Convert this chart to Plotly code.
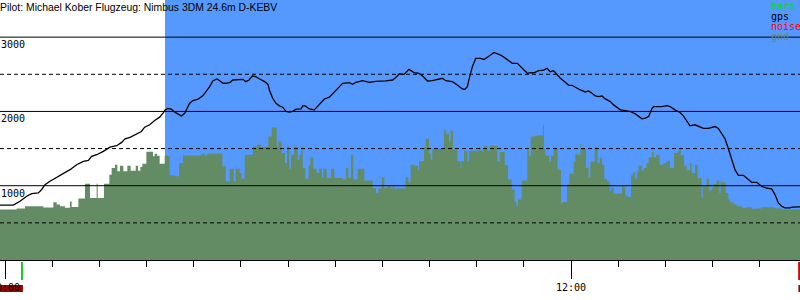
import pandas as pd
import plotly.graph_objects as go

# ---------------- data (minutes after 10:00, metres) ----------------
baro_min = [-1.06, 1.77, 3.18, 4.59, 5.65, 7.07, 7.77, 8.48, 9.54, 11.31,
            12.72, 13.78, 15.19, 16.61, 17.67, 18.37, 19.43, 20.85, 22.26, 23.67,
            24.73, 25.44, 26.50, 27.56, 28.20, 28.91, 29.61, 30.67, 31.73, 32.79,
            33.50, 33.99, 34.56, 35.27, 35.97, 36.68, 37.39, 38.09, 38.45, 39.15,
            39.86, 40.92, 41.98, 42.69, 43.39, 44.10, 44.95, 45.51, 46.22, 46.93,
            47.63, 48.34, 49.75, 50.46, 51.03, 51.73, 52.44, 53.15, 53.99, 55.05,
            55.76, 56.04, 56.75, 57.45, 58.16, 58.87, 59.57, 60.28, 60.99, 61.69,
            62.75, 63.11, 63.67, 64.52, 65.58, 66.64, 67.70, 68.76, 69.46, 70.17,
            70.88, 71.58, 73.00, 73.70, 74.41, 75.82, 77.24, 78.65, 80.77, 82.19,
            82.89, 83.60, 84.59, 85.65, 86.71, 87.77, 88.83, 89.54, 90.60, 91.66,
            92.72, 93.42, 94.84, 95.90, 96.96, 97.52, 98.02, 98.51, 99.08, 99.78,
            100.84, 101.55, 102.26, 102.96, 103.67, 104.38, 105.08, 106.14, 107.56, 108.62,
            109.68, 110.74, 111.45, 112.15, 113.13, 114.19, 114.90, 115.61, 116.31, 117.02,
            117.73, 118.79, 119.49, 120.20, 120.91, 121.97, 123.03, 123.73, 124.44, 125.15,
            125.85, 126.56, 127.27, 128.33, 129.03, 129.74, 130.45, 131.51, 132.57, 133.63,
            134.33, 135.04, 135.75, 136.45, 137.16, 137.51, 138.22, 139.28, 140.34, 140.98,
            142.04, 143.10, 143.81, 144.51, 145.22, 146.28, 146.99, 148.05, 149.11, 149.81,
            150.52, 151.23, 151.93, 152.64, 153.35, 154.05, 154.76, 155.47, 156.53, 157.23,
            158.29, 159.35, 160.41, 161.47, 162.53, 163.24, 163.95, 164.65, 165.36, 166.42,
            166.78, 168.54]
baro_alt = [738, 738, 791, 858, 894, 903, 948, 1015, 1060, 1127,
            1171, 1216, 1283, 1328, 1341, 1395, 1417, 1462, 1520, 1538,
            1583, 1632, 1650, 1681, 1699, 1730, 1788, 1820, 1878, 1923,
            1976, 2021, 2039, 2030, 1990, 1963, 1940, 1976, 2021, 2110,
            2146, 2164, 2213, 2267, 2334, 2414, 2437, 2414, 2379, 2379,
            2388, 2423, 2432, 2432, 2401, 2423, 2477, 2468, 2437, 2401,
            2365, 2289, 2177, 2110, 2075, 2057, 1999, 1990, 1999, 2030,
            2034, 2075, 2075, 2034, 2021, 2100, 2168, 2191, 2236, 2289,
            2325, 2379, 2388, 2365, 2392, 2414, 2392, 2405, 2410, 2423,
            2459, 2508, 2499, 2566, 2522, 2513, 2459, 2410, 2414, 2432,
            2446, 2414, 2401, 2356, 2303, 2298, 2334, 2468, 2602, 2714,
            2714, 2700, 2727, 2759, 2794, 2781, 2759, 2714, 2647, 2647,
            2580, 2513, 2522, 2518, 2548, 2557, 2580, 2535, 2548, 2490,
            2446, 2392, 2352, 2352, 2325, 2289, 2262, 2276, 2244, 2209,
            2200, 2209, 2168, 2133, 2088, 2052, 2021, 2012, 1999, 1967,
            1932, 1900, 1909, 1932, 2039, 2066, 2066, 2066, 2077, 2066,
            2021, 1985, 1940, 1878, 1806, 1820, 1797, 1771, 1771, 1788,
            1797, 1771, 1708, 1632, 1498, 1350, 1216, 1140, 1140, 1104,
            1046, 1046, 993, 966, 957, 881, 769, 724, 702, 702,
            711, 715]

gnd_min = [-1.06, 2.47, 4.24, 8.13, 10.25, 10.95, 11.66, 12.72, 13.78, 14.13,
           15.55, 16.96, 18.02, 19.43, 19.65, 20.99, 22.12, 22.61, 23.32, 23.82,
           24.38, 25.09, 25.94, 26.64, 27.71, 28.20, 28.69, 29.12, 29.97, 31.38,
           31.73, 32.23, 32.79, 33.85, 34.91, 35.97, 36.89, 37.74, 41.63, 42.33,
           42.83, 46.08, 46.79, 47.63, 48.48, 48.91, 49.75, 50.11, 50.81, 52.58,
           53.43, 54.35, 55.27, 55.82, 56.53, 57.59, 57.94, 58.65, 59.36, 59.78,
           60.28, 60.63, 61.34, 62.04, 62.40, 62.75, 63.11, 63.67, 64.38, 64.73,
           65.37, 66.07, 66.64, 67.20, 67.49, 68.19, 69.11, 69.82, 71.58, 72.29,
           72.79, 73.35, 73.85, 74.76, 76.18, 77.94, 78.65, 79.15, 79.92, 80.42,
           81.12, 81.83, 82.19, 82.54, 84.94, 85.51, 86.00, 86.85, 87.56, 87.77,
           88.83, 89.18, 89.89, 90.24, 90.60, 93.07, 93.42, 94.13, 94.48, 94.98,
           95.90, 96.60, 96.75, 97.31, 98.02, 98.37, 100.49, 100.84, 101.55, 102.26,
           102.75, 104.38, 104.87, 105.93, 106.64, 107.42, 108.05, 108.41, 108.76, 109.54,
           110.74, 111.09, 111.45, 112.43, 113.13, 114.05, 114.26, 114.55, 115.39, 115.75,
           116.31, 117.16, 117.87, 118.22, 119.14, 119.64, 120.55, 120.91, 121.26, 121.97,
           122.18, 123.17, 123.73, 124.09, 125.01, 125.64, 126.07, 126.56, 127.06, 127.62,
           128.19, 128.47, 129.03, 130.80, 131.51, 132.00, 132.71, 133.13, 133.63, 133.98,
           134.33, 135.04, 135.39, 135.96, 136.45, 137.16, 137.51, 138.01, 138.79, 139.63,
           140.27, 140.98, 141.83, 142.75, 143.24, 143.95, 144.51, 145.22, 145.57, 146.28,
           146.85, 147.69, 147.91, 148.75, 149.25, 149.81, 150.17, 150.87, 151.44, 151.72,
           151.93, 152.78, 153.35, 153.70, 154.41, 155.11, 156.17, 157.23, 158.29, 159.35,
           160.41, 163.24, 164.65, 168.60]
gnd_alt = [680, 693, 724, 706, 778, 747, 724, 702, 787, 715,
           827, 1028, 836, 1028, 836, 1028, 1149, 1238, 1283, 1194,
           1270, 1194, 1270, 1203, 1270, 1203, 1252, 1297, 1458, 1395,
           1431, 1404, 1297, 1404, 1140, 1127, 1306, 1408, 1431, 1404,
           1431, 1261, 1060, 1230, 1060, 1230, 1171, 1095, 1417, 1529,
           1551, 1520, 1529, 1663, 1784, 1529, 1596, 1440, 1306, 1529,
           1230, 1417, 1529, 1350, 1417, 1529, 1238, 1095, 1274, 1382,
           1230, 1171, 1230, 1104, 1230, 1104, 1230, 1104, 1082, 1238,
           1104, 1417, 1082, 1230, 1069, 970, 903, 961, 1113, 970,
           993, 961, 993, 961, 1113, 1046, 1283, 1270, 1207, 1328,
           1520, 1632, 1440, 1350, 1493, 1753, 1699, 1596, 1739, 1484,
           1328, 1238, 1328, 1471, 1328, 1471, 1520, 1471, 1538, 1471,
           1538, 1328, 1453, 1274, 1082, 948, 782, 724, 814, 1069,
           1484, 1395, 1663, 1672, 1681, 1820, 1493, 1404, 1328, 1404,
           1493, 1216, 760, 782, 1015, 1162, 1328, 1431, 1417, 1565,
           1493, 1238, 1113, 1323, 1520, 1306, 1377, 1283, 1091, 1060,
           925, 975, 894, 993, 867, 849, 1140, 1180, 1095, 1203,
           1270, 1203, 1238, 1306, 1382, 1458, 1382, 1417, 1283, 1306,
           1337, 1238, 1440, 1484, 1413, 1270, 1207, 1306, 1171, 1283,
           1104, 836, 1002, 1095, 934, 970, 1024, 1069, 903, 1069,
           1046, 903, 814, 778, 747, 724, 702, 711, 689, 693,
           711, 693, 680, 680]

view_min = [-1.06, 168.54]          # visible time window
task_start_min = 33.92              # start of blue (task) period
takeoff_min = 3.6
landing_min = 168.35
noise_segments = [(-1.06, 3.8), (168.2, 168.6)]
solid_levels = [1000, 2000, 3000]
dashed_levels = [500, 1500, 2500]
label_levels = [1000, 2000, 3000]
legend_items = [("baro", "#00DD00"), ("gps", "#000000"), ("noise", "#FF0000"), ("gnd", "#648C64")]
title_text = "Pilot: Michael Kober Flugzeug: Nimbus 3DM 24.6m D-KEBV"

base = pd.Timestamp("2010-05-01 10:00:00")


def T(m):
    return base + pd.to_timedelta(m, unit="min")


MONO = "DejaVu Sans Mono"
PLOT_H = 260.0

fig = go.Figure()
fig.add_trace(go.Scatter(x=[T(m) for m in gnd_min], y=gnd_alt, mode="lines",
                         line=dict(width=0, shape="hv"), fill="tozeroy",
                         fillcolor="#648C64", hoverinfo="skip"))
fig.add_trace(go.Scatter(x=[T(m) for m in baro_min], y=baro_alt, mode="lines",
                         line=dict(color="black", width=1.3)))

shapes = []
shapes.append(dict(type="rect", xref="x", yref="paper", x0=T(task_start_min), x1=T(view_min[1] + 1),
                   y0=0, y1=1, fillcolor="#5599FF", line=dict(width=0), layer="below"))
for v in solid_levels:
    shapes.append(dict(type="line", xref="paper", yref="y", x0=0, x1=1, y0=v, y1=v,
                       line=dict(color="black", width=1), layer="above"))
for v in dashed_levels:
    shapes.append(dict(type="line", xref="paper", yref="y", x0=0, x1=1, y0=v, y1=v,
                       line=dict(color="black", width=1, dash="4px,3px"), layer="above"))
# takeoff / landing markers below axis
shapes.append(dict(type="rect", xref="x", yref="paper", x0=T(takeoff_min - 0.2), x1=T(takeoff_min + 0.2),
                   y0=-2 / PLOT_H, y1=-20 / PLOT_H, fillcolor="#00CC22", line=dict(width=0), layer="above"))
shapes.append(dict(type="rect", xref="x", yref="paper", x0=T(landing_min - 0.2), x1=T(landing_min + 0.3),
                   y0=-2 / PLOT_H, y1=-20 / PLOT_H, fillcolor="#DD0000", line=dict(width=0), layer="above"))
for a, b in noise_segments:
    shapes.append(dict(type="rect", xref="x", yref="paper", x0=T(a), x1=T(b),
                       y0=-25 / PLOT_H, y1=-32 / PLOT_H, fillcolor="#990000", line=dict(width=0), layer="below"))

annotations = []
annotations.append(dict(text=title_text, xref="paper", yref="paper", x=0, y=1, xanchor="left", yanchor="top",
                        showarrow=False, borderpad=0, xshift=-1, yshift=-1,
                        font=dict(family="Liberation Sans", size=10.4, color="black")))
for v in label_levels:
    annotations.append(dict(text=str(v), xref="paper", yref="y", x=0, y=v, xanchor="left", yanchor="top",
                            showarrow=False, borderpad=0, yshift=-1,
                            font=dict(family=MONO, size=10, color="black")))
for i, (name, col) in enumerate(legend_items):
    annotations.append(dict(text=name, xref="paper", yref="paper", x=770 / 800, y=1 - (6.5 + 10 * i) / PLOT_H,
                            xanchor="left", yanchor="middle", showarrow=False, borderpad=0,
                            font=dict(family=MONO, size=10, color=col)))

fig.update_layout(
    width=800, height=300, margin=dict(l=0, r=0, t=0, b=40, autoexpand=False),
    paper_bgcolor="white", plot_bgcolor="white", showlegend=False,
    shapes=shapes, annotations=annotations,
    xaxis=dict(type="date", range=[T(view_min[0]), T(view_min[1])], tick0=T(0), dtick=7200000,
               tickformat="%H:%M", ticks="outside", ticklen=18, tickwidth=1, tickcolor="black",
               ticklabeloverflow="allow", automargin=False,
               showgrid=False, showline=True, linecolor="black", linewidth=1, zeroline=False,
               tickfont=dict(family=MONO, size=10, color="black"),
               minor=dict(dtick=600000, tick0=T(0), ticks="outside", ticklen=6, tickwidth=1,
                          tickcolor="black", showgrid=False)),
    yaxis=dict(range=[0, 3500], showticklabels=False, showgrid=False, zeroline=False, ticks="",
               automargin=False),
)

fig.write_html("out.html")
